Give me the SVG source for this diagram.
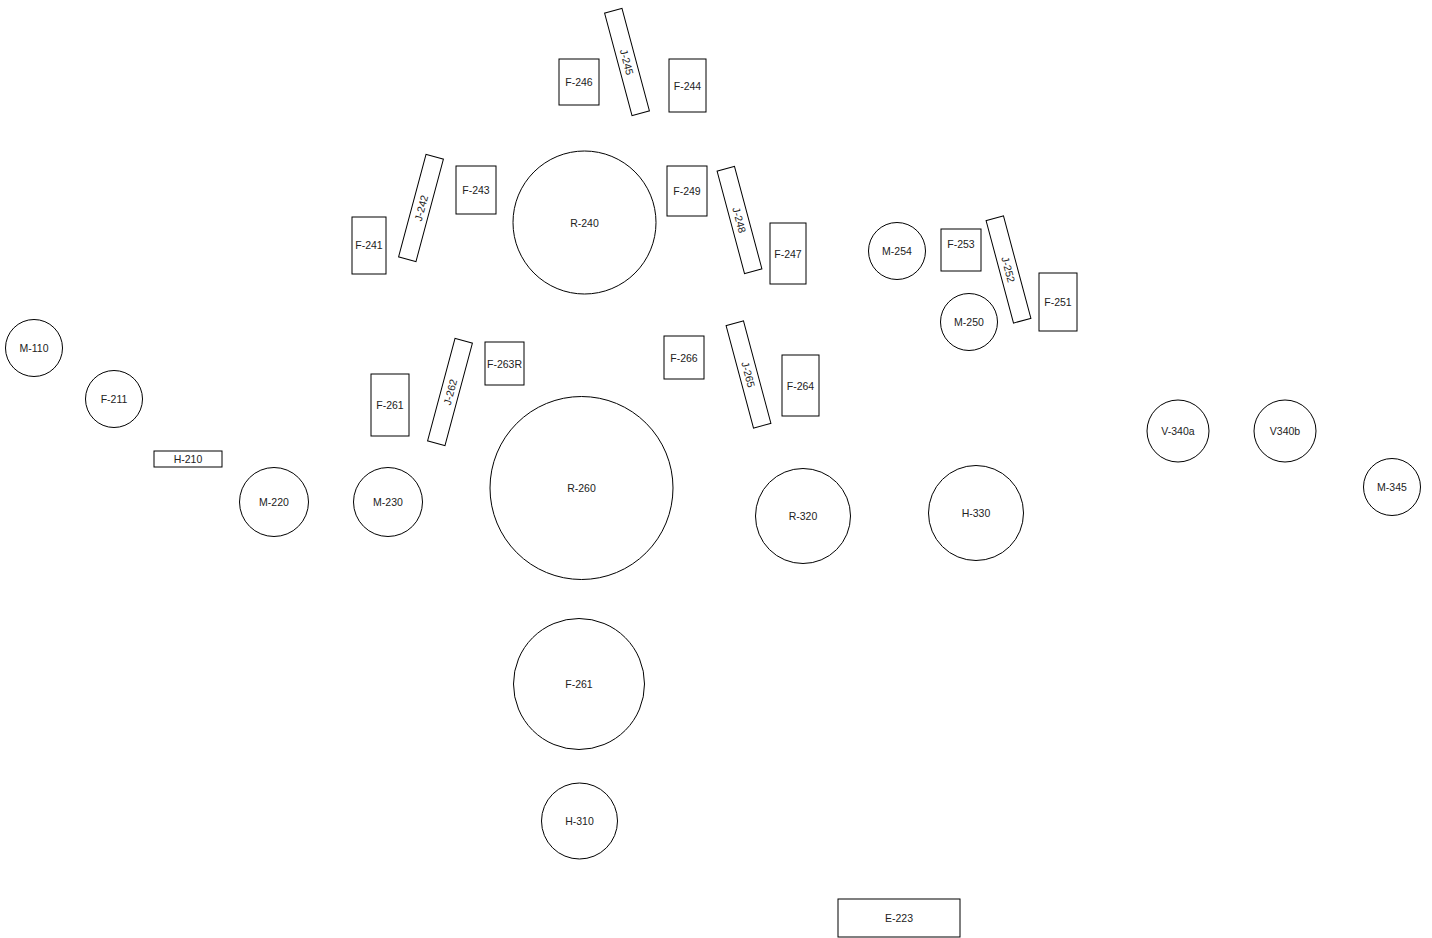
<svg xmlns="http://www.w3.org/2000/svg" width="1432" height="938" viewBox="0 0 1432 938">
<style>
.s{fill:#fff;stroke:#000;stroke-width:1}
text{font-family:"Liberation Sans",Arial,sans-serif;font-size:10.5px;fill:#222;text-anchor:middle;dominant-baseline:central}
</style>
<rect width="1432" height="938" fill="#fff"/>
<g id="connectors"></g>
<g id="F-246"><rect class="s" x="559" y="59" width="40" height="46"/><text x="579" y="82">F-246</text></g>
<g id="J-245" transform="translate(627,62) rotate(75)"><rect class="s" x="-53" y="-9" width="106" height="18"/><text x="0" y="0">J-245</text></g>
<g id="F-244"><rect class="s" x="669" y="59" width="37" height="53"/><text x="687.5" y="86">F-244</text></g>
<g id="F-241"><rect class="s" x="352" y="217" width="34" height="57"/><text x="369" y="245">F-241</text></g>
<g id="J-242" transform="translate(421,208) rotate(-75)"><rect class="s" x="-53" y="-9" width="106" height="18"/><text x="0" y="0">J-242</text></g>
<g id="F-243"><rect class="s" x="456" y="166" width="40" height="48"/><text x="476" y="190">F-243</text></g>
<g id="R-240"><circle class="s" cx="584.5" cy="222.5" r="71.5"/><text x="584.5" y="222.5">R-240</text></g>
<g id="F-249"><rect class="s" x="667" y="166" width="40" height="50"/><text x="687" y="191">F-249</text></g>
<g id="J-248" transform="translate(739.5,220) rotate(75)"><rect class="s" x="-53" y="-9" width="106" height="18"/><text x="0" y="0">J-248</text></g>
<g id="F-247"><rect class="s" x="770" y="223" width="36" height="61"/><text x="788" y="253.5">F-247</text></g>
<g id="M-254"><circle class="s" cx="897" cy="251" r="28.5"/><text x="897" y="251">M-254</text></g>
<g id="F-253"><rect class="s" x="941" y="229" width="40" height="42"/><text x="961" y="244">F-253</text></g>
<g id="J-252" transform="translate(1008.5,269.5) rotate(75)"><rect class="s" x="-53" y="-9" width="106" height="18"/><text x="0" y="0">J-252</text></g>
<g id="F-251"><rect class="s" x="1039" y="273" width="38" height="58"/><text x="1058" y="302">F-251</text></g>
<g id="M-250"><circle class="s" cx="969" cy="322" r="28.5"/><text x="969" y="322">M-250</text></g>
<g id="F-261-rect"><rect class="s" x="371" y="374" width="38" height="62"/><text x="390" y="405">F-261</text></g>
<g id="J-262" transform="translate(450,392) rotate(-75)"><rect class="s" x="-53" y="-9" width="106" height="18"/><text x="0" y="0">J-262</text></g>
<g id="F-263R"><rect class="s" x="485" y="342" width="39" height="43"/><text x="504.5" y="363.5">F-263R</text></g>
<g id="F-266"><rect class="s" x="664" y="336" width="40" height="43"/><text x="684" y="357.5">F-266</text></g>
<g id="J-265" transform="translate(748.5,374.5) rotate(75)"><rect class="s" x="-53" y="-9" width="106" height="18"/><text x="0" y="0">J-265</text></g>
<g id="F-264"><rect class="s" x="782" y="355" width="37" height="61"/><text x="800.5" y="385.5">F-264</text></g>
<g id="M-110"><circle class="s" cx="34" cy="348" r="28.5"/><text x="34" y="348">M-110</text></g>
<g id="F-211"><circle class="s" cx="114" cy="399" r="28.5"/><text x="114" y="399">F-211</text></g>
<g id="H-210"><rect class="s" x="154" y="451" width="68" height="16"/><text x="188" y="459">H-210</text></g>
<g id="M-220"><circle class="s" cx="274" cy="502" r="34.5"/><text x="274" y="502">M-220</text></g>
<g id="M-230"><circle class="s" cx="388" cy="502" r="34.5"/><text x="388" y="502">M-230</text></g>
<g id="R-260"><circle class="s" cx="581.5" cy="488" r="91.5"/><text x="581.5" y="488">R-260</text></g>
<g id="R-320"><circle class="s" cx="803" cy="516" r="47.5"/><text x="803" y="516">R-320</text></g>
<g id="H-330"><circle class="s" cx="976" cy="513" r="47.5"/><text x="976" y="513">H-330</text></g>
<g id="V-340a"><circle class="s" cx="1178" cy="431" r="31"/><text x="1178" y="431">V-340a</text></g>
<g id="V340b"><circle class="s" cx="1285" cy="431" r="31"/><text x="1285" y="431">V340b</text></g>
<g id="M-345"><circle class="s" cx="1392" cy="487" r="28.5"/><text x="1392" y="487">M-345</text></g>
<g id="F-261-circle"><circle class="s" cx="579" cy="684" r="65.5"/><text x="579" y="684">F-261</text></g>
<g id="H-310"><circle class="s" cx="579.5" cy="821" r="38"/><text x="579.5" y="821">H-310</text></g>
<g id="E-223"><rect class="s" x="838" y="899" width="122" height="38"/><text x="899" y="918">E-223</text></g>
</svg>
